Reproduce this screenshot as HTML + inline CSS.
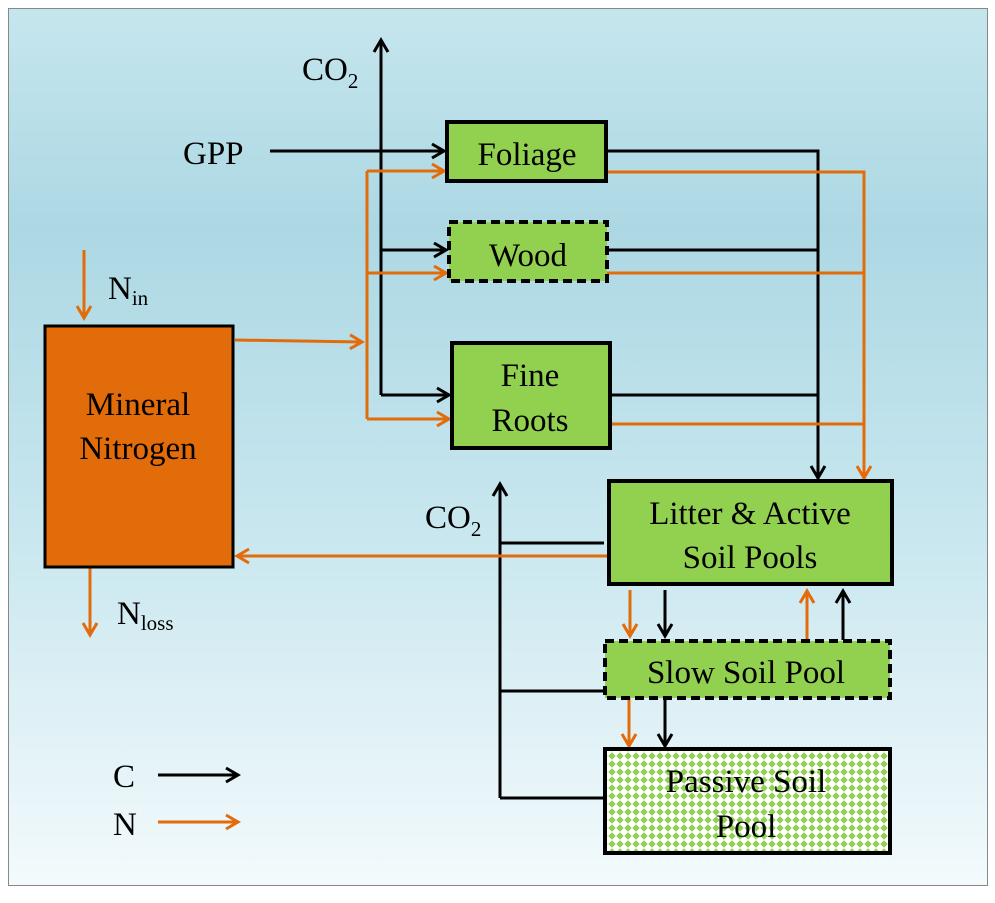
<!DOCTYPE html>
<html><head><style>
body{margin:0;width:995px;height:898px;background:#fff;overflow:hidden}
svg text{font-family:"Liberation Serif",serif;fill:#000}
</style></head><body>
<svg width="995" height="898" xmlns="http://www.w3.org/2000/svg">
<defs>
<linearGradient id="bg" x1="0" y1="0" x2="0" y2="1">
<stop offset="0" stop-color="#c6e6ed"/><stop offset="0.25" stop-color="#acd8e4"/><stop offset="0.6" stop-color="#c9e7ef"/><stop offset="1" stop-color="#f3fafc"/>
</linearGradient>
<pattern id="dots" width="8" height="8" patternUnits="userSpaceOnUse">
<rect width="8" height="8" fill="#fff"/><path d="M4 0.3L7.7 4L4 7.7L0.3 4Z" fill="#92d050"/>
</pattern>
<marker id="ak" markerWidth="18" markerHeight="18" refX="15" refY="9" orient="auto" markerUnits="userSpaceOnUse"><path d="M3 2L15 9L3 16" fill="none" stroke="#000" stroke-width="3"/></marker>
<marker id="ao" markerWidth="18" markerHeight="18" refX="15" refY="9" orient="auto" markerUnits="userSpaceOnUse"><path d="M3 2L15 9L3 16" fill="none" stroke="#e36c0a" stroke-width="3"/></marker>
</defs>
<rect x="8.5" y="8.5" width="979" height="877" fill="url(#bg)" stroke="#888" stroke-width="1"/>
<g stroke-width="3" fill="none">
<path d="M381 395V40" stroke="#000" marker-end="url(#ak)"/>
<path d="M270 151H444" stroke="#000" marker-end="url(#ak)"/>
<path d="M381 250H446" stroke="#000" marker-end="url(#ak)"/>
<path d="M381 395H449" stroke="#000" marker-end="url(#ak)"/>
<path d="M367 171V419" stroke="#e36c0a"/>
<path d="M367 171H444" stroke="#e36c0a" marker-end="url(#ao)"/>
<path d="M367 273H446" stroke="#e36c0a" marker-end="url(#ao)"/>
<path d="M367 419H449" stroke="#e36c0a" marker-end="url(#ao)"/>
<path d="M235 340L362 342" stroke="#e36c0a" marker-end="url(#ao)"/>
<path d="M606 151H818V478" stroke="#000" marker-end="url(#ak)"/>
<path d="M607 250H818M610 395H818" stroke="#000"/>
<path d="M606 172H864V478" stroke="#e36c0a" marker-end="url(#ao)"/>
<path d="M607 273H864M610 424H864" stroke="#e36c0a"/>
<path d="M500 798V484" stroke="#000" marker-end="url(#ak)"/>
<path d="M500 543H604M500 691H603M500 798H603" stroke="#000"/>
<path d="M608 556H237" stroke="#e36c0a" marker-end="url(#ao)"/>
<path d="M630 590V636" stroke="#e36c0a" marker-end="url(#ao)"/>
<path d="M665 590V636" stroke="#000" marker-end="url(#ak)"/>
<path d="M807 640V591" stroke="#e36c0a" marker-end="url(#ao)"/>
<path d="M843 640V591" stroke="#000" marker-end="url(#ak)"/>
<path d="M629 698V746" stroke="#e36c0a" marker-end="url(#ao)"/>
<path d="M665 698V746" stroke="#000" marker-end="url(#ak)"/>
<path d="M84 250V318" stroke="#e36c0a" marker-end="url(#ao)"/>
<path d="M90 567V635" stroke="#e36c0a" marker-end="url(#ao)"/>
<path d="M158 775H238" stroke="#000" marker-end="url(#ak)"/>
<path d="M158 822H238" stroke="#e36c0a" marker-end="url(#ao)"/>
</g>
<g stroke="#000" stroke-width="4">
<rect x="447" y="122" width="159" height="59" fill="#92d050"/>
<rect x="449" y="222" width="158" height="59" fill="#92d050" stroke-dasharray="9,5"/>
<rect x="452" y="343" width="158" height="105" fill="#92d050"/>
<rect x="609" y="481" width="283" height="103" fill="#92d050"/>
<rect x="605" y="641" width="285" height="57" fill="#92d050" stroke-dasharray="9,5"/>
<rect x="605" y="749" width="285" height="104" fill="url(#dots)"/>
<rect x="45" y="326" width="188" height="241" fill="#e36c0a" stroke-width="3"/>
</g>
<g font-size="33" text-anchor="middle">
<text x="527" y="165">Foliage</text>
<text x="528" y="266">Wood</text>
<text x="530" y="386">Fine</text>
<text x="530" y="431">Roots</text>
<text x="750" y="524">Litter &amp; Active</text>
<text x="750" y="568">Soil Pools</text>
<text x="746" y="683">Slow Soil Pool</text>
<text x="746" y="792">Passive Soil</text>
<text x="746" y="837">Pool</text>
<text x="138" y="415">Mineral</text>
<text x="138" y="459">Nitrogen</text>
</g>
<g font-size="33">
<text x="302" y="80">CO<tspan font-size="21" dy="8">2</tspan></text>
<text x="425" y="528">CO<tspan font-size="21" dy="8">2</tspan></text>
<text x="183" y="164">GPP</text>
<text x="108" y="299">N<tspan font-size="21" dy="6">in</tspan></text>
<text x="117" y="624">N<tspan font-size="21" dy="6">loss</tspan></text>
<text x="113" y="787">C</text>
<text x="113" y="835">N</text>
</g>
</svg>
</body></html>
